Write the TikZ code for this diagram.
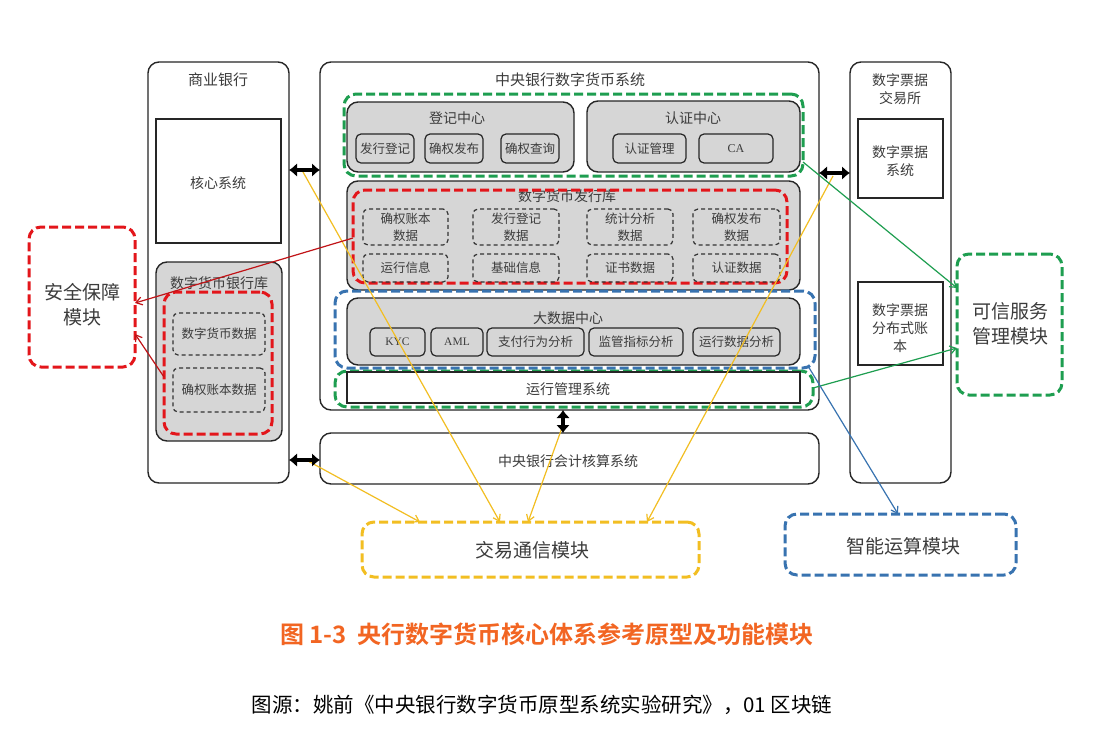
\documentclass[tikz,border=0pt]{standalone}
\usepackage{fontspec}
\setmainfont{Noto Sans CJK SC}
\newfontfamily\capfont{Noto Sans CJK SC Bold}
\newfontfamily\latfont{Liberation Serif}
\usetikzlibrary{arrows.meta}
\definecolor{tgrey}{HTML}{3C3C3C}
\definecolor{boxgrey}{HTML}{D6D6D6}
\definecolor{gdash}{HTML}{1E9E50}
\definecolor{rdash}{HTML}{E3161B}
\definecolor{bdash}{HTML}{3873B0}
\definecolor{ydash}{HTML}{F2BE22}
\definecolor{capcol}{HTML}{F26522}
\begin{document}
\begin{tikzpicture}[x=1pt,y=-1pt,
  frame/.style={draw=black!85, line width=1.4pt, rounded corners=11pt, inner sep=0pt, outer sep=0pt},
  sqbox/.style={draw=black!85, line width=1.4pt, inner sep=0pt, outer sep=0pt, fill=white},
  gbox/.style={frame, fill=boxgrey},
  subbox/.style={draw=black!85, line width=1.2pt, rounded corners=5pt, fill=boxgrey, inner sep=0pt, outer sep=0pt},
  ddash/.style={draw=black!80, line width=1.2pt, dash pattern=on 4pt off 3pt, rounded corners=5pt, inner sep=0pt, outer sep=0pt},
  cdash/.style={line width=3pt, dash pattern=on 9pt off 4pt, rounded corners=12pt, inner sep=0pt, outer sep=0pt},
  lbl/.style={text=tgrey, font=\fontsize{14}{18}\selectfont, align=center, inner sep=0pt},
  slbl/.style={text=tgrey, font=\fontsize{12.5}{17}\selectfont, align=center, inner sep=0pt},
  blbl/.style={text=tgrey, font=\fontsize{19}{25}\selectfont, align=center, inner sep=0pt},
  dbl/.style={line width=4.5pt, black, {Latex[length=8pt,width=14pt]}-{Latex[length=8pt,width=14pt]}},
  con/.style={line width=1.2pt, -{Straight Barb[length=6pt,width=8pt]}}
]
\useasboundingbox[fill=white] (0,0) rectangle (1100,737);

% ---------- 商业银行 ----------
\node[frame, minimum width=141pt, minimum height=421pt] (cb) at (218.5,272.5) {};
\node[lbl, font=\fontsize{15}{18}\selectfont] (cbt) at (218,80) {商业银行};
\node[sqbox, minimum width=125pt, minimum height=124pt] (core) at (218.5,181) {};
\node[lbl] (coret) at (218,183) {核心系统};
\node[gbox, minimum width=126pt, minimum height=179pt] (dcbank) at (219,351.5) {};
\node[lbl] (dcbankt) at (219,283) {数字货币银行库};
\node[cdash, draw=rdash, minimum width=108pt, minimum height=142pt] (dcbankR) at (218,363) {};
\node[ddash, minimum width=92pt, minimum height=42pt] (dcdata) at (219,334) {};
\node[slbl] at (dcdata) {数字货币数据};
\node[ddash, minimum width=92pt, minimum height=44pt] (qqdata) at (219,390) {};
\node[slbl] at (qqdata) {确权账本数据};

% ---------- 安全保障模块 ----------
\node[cdash, draw=rdash, minimum width=106pt, minimum height=140pt] (sec) at (82,297) {};
\node[blbl] at (82,305) {安全保障\\模块};

% ---------- 中央银行数字货币系统 ----------
\node[frame, minimum width=499pt, minimum height=348pt] (central) at (569.5,236) {};
\node[lbl, font=\fontsize{15}{18}\selectfont] at (570,80) {中央银行数字货币系统};
\node[cdash, draw=gdash, minimum width=459pt, minimum height=82pt] (gtop) at (573.5,135) {};
\node[gbox, minimum width=227pt, minimum height=70pt] (djzx) at (460.5,137) {};
\node[lbl] at (457,118) {登记中心};
\node[subbox, minimum width=58pt, minimum height=29pt] (fxdj) at (385,148.5) {};
\node[slbl] at (fxdj) {发行登记};
\node[subbox, minimum width=58pt, minimum height=29pt] (qqfb) at (454,148.5) {};
\node[slbl] at (qqfb) {确权发布};
\node[subbox, minimum width=58pt, minimum height=29pt] (qqcx) at (530,148.5) {};
\node[slbl] at (qqcx) {确权查询};
\node[gbox, minimum width=213pt, minimum height=71pt] (rzzx) at (693.5,136.5) {};
\node[lbl] at (693,118) {认证中心};
\node[subbox, minimum width=73pt, minimum height=29pt] (rzgl) at (649.5,148.5) {};
\node[slbl] at (rzgl) {认证管理};
\node[subbox, minimum width=74pt, minimum height=29pt] (ca) at (736,148.5) {};
\node[slbl, font=\latfont\fontsize{12}{14}\selectfont] at (ca) {CA};

\node[gbox, minimum width=453pt, minimum height=109pt] (fxk) at (573.5,235.5) {};
\node[lbl] at (567,196) {数字货币发行库};
\node[cdash, draw=rdash, minimum width=434pt, minimum height=93pt] (fxkR) at (570,236.5) {};
\node[ddash, minimum width=85pt, minimum height=36pt] (d11) at (405.5,227) {};
\node[slbl] at (d11) {确权账本\\数据};
\node[ddash, minimum width=86pt, minimum height=36pt] (d12) at (516,227) {};
\node[slbl] at (d12) {发行登记\\数据};
\node[ddash, minimum width=86pt, minimum height=36pt] (d13) at (630,227) {};
\node[slbl] at (d13) {统计分析\\数据};
\node[ddash, minimum width=87pt, minimum height=36pt] (d14) at (736.5,227) {};
\node[slbl] at (d14) {确权发布\\数据};
\node[ddash, minimum width=85pt, minimum height=28pt] (d21) at (405.5,268) {};
\node[slbl] at (d21) {运行信息};
\node[ddash, minimum width=86pt, minimum height=28pt] (d22) at (516,268) {};
\node[slbl] at (d22) {基础信息};
\node[ddash, minimum width=86pt, minimum height=28pt] (d23) at (630,268) {};
\node[slbl] at (d23) {证书数据};
\node[ddash, minimum width=87pt, minimum height=28pt] (d24) at (736.5,268) {};
\node[slbl] at (d24) {认证数据};

\node[cdash, draw=bdash, minimum width=480pt, minimum height=77pt] (bdc) at (575,329.5) {};
\node[gbox, minimum width=453pt, minimum height=67pt] (big) at (573.5,331.5) {};
\node[lbl] at (568,318) {大数据中心};
\node[subbox, minimum width=55pt, minimum height=28pt] (kyc) at (397.5,342) {};
\node[slbl, font=\latfont\fontsize{11.5}{14}\selectfont] at (kyc) {KYC};
\node[subbox, minimum width=52pt, minimum height=28pt] (aml) at (457,342) {};
\node[slbl, font=\latfont\fontsize{11.5}{14}\selectfont] at (aml) {AML};
\node[subbox, minimum width=97pt, minimum height=28pt] (zf) at (535.5,342) {};
\node[slbl] at (zf) {支付行为分析};
\node[subbox, minimum width=94pt, minimum height=28pt] (jg) at (636,342) {};
\node[slbl] at (jg) {监管指标分析};
\node[subbox, minimum width=87pt, minimum height=28pt] (yxsj) at (736.5,342) {};
\node[slbl] at (yxsj) {运行数据分析};

\node[cdash, draw=gdash, minimum width=478pt, minimum height=36pt] (yxglG) at (574,389) {};
\node[sqbox, minimum width=453pt, minimum height=31pt] (yxgl) at (573.5,387.5) {};
\node[lbl] at (568,389) {运行管理系统};

% ---------- 会计核算 ----------
\node[frame, minimum width=499pt, minimum height=51pt] (kjhs) at (569.5,458.5) {};
\node[lbl] at (568,461) {中央银行会计核算系统};

% ---------- 数字票据交易所 ----------
\node[frame, minimum width=101pt, minimum height=421pt] (exch) at (900.5,272.5) {};
\node[lbl, font=\fontsize{14}{18}\selectfont] at (900,89) {数字票据\\交易所};
\node[sqbox, minimum width=85pt, minimum height=79pt] (pjsys) at (900.5,158.5) {};
\node[lbl] at (900,161) {数字票据\\系统};
\node[sqbox, minimum width=85pt, minimum height=83pt] (pjled) at (900.5,323.5) {};
\node[lbl] at (900,328) {数字票据\\分布式账\\本};

% ---------- modules ----------
\node[cdash, draw=gdash, minimum width=105pt, minimum height=141pt] (trust) at (1009.5,324.5) {};
\node[blbl] at (1010,324) {可信服务\\管理模块};
\node[cdash, draw=bdash, minimum width=231pt, minimum height=61pt] (smart) at (900.5,544.5) {};
\node[blbl] at (903,546) {智能运算模块};
\node[cdash, draw=ydash, minimum width=337pt, minimum height=55pt] (trade) at (530.5,549.5) {};
\node[blbl] at (532,550) {交易通信模块};

% ---------- coordinates ----------
\coordinate (y170) at (0,170);
\coordinate (y460) at (0,460);
\coordinate (y173) at (0,173);
\coordinate (xm) at (563,0);
\coordinate (ya1) at (303,172);
\coordinate (ya2) at (308,461);
\coordinate (ya3) at (563,425);
\coordinate (ya4) at (833,176);
\coordinate (t1) at (500,522);
\coordinate (t2) at (420,522);
\coordinate (t3) at (528,522);
\coordinate (t4) at (647,522);
\coordinate (r1) at (353,238);
\coordinate (r2) at (164,377);
\coordinate (s1) at (135,303);
\coordinate (s2) at (135,334);
\coordinate (g1) at (803,162);
\coordinate (g2) at (813,388);
\coordinate (tr1) at (957,288);
\coordinate (tr2) at (957,348);
\coordinate (b1) at (808,366);
\coordinate (sm1) at (898,514);

% ---------- connectors ----------
\draw[con, ydash] (ya1) -- (t1);
\draw[con, ydash] (ya2) -- (t2);
\draw[con, ydash] (ya3) -- (t3);
\draw[con, ydash] (ya4) -- (t4);
\draw[con, rdash!85!black] (r1) -- (s1);
\draw[con, rdash!85!black] (r2) -- (s2);
\draw[con, gdash] (g1) -- (tr1);
\draw[con, gdash] (g2) -- (tr2);
\draw[con, bdash] (b1) -- (sm1);

\draw[dbl] (cb.east |- y170) -- (central.west |- y170);
\draw[dbl] (cb.east |- y460) -- (kjhs.west |- y460);
\draw[dbl] (central.east |- y173) -- (exch.west |- y173);
\draw[dbl] (xm |- central.south) -- (xm |- kjhs.north);

% ---------- captions ----------
\node[text=capcol, font=\capfont\fontsize{24}{27}\selectfont, inner sep=0pt] (cap) at (547,634) {图 1-3\ \ 央行数字货币核心体系参考原型及功能模块};
\node[text=black, font=\fontsize{20.5}{24}\selectfont, inner sep=0pt] (src) at (542,705) {图源：姚前《中央银行数字货币原型系统实验研究》，01 区块链};
\end{tikzpicture}
\end{document}
